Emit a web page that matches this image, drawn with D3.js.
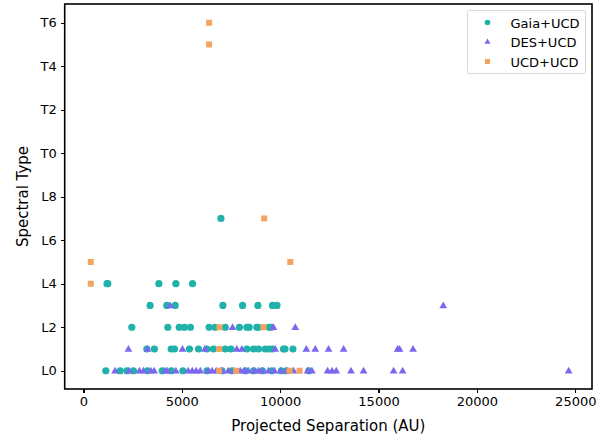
<!DOCTYPE html>
<html lang="en">
<head>
<meta charset="utf-8">
<title>Spectral type vs projected separation</title>
<script src="https://cdn.jsdelivr.net/npm/d3@7"></script>
<style>
  body { margin: 0; background: #fff; }
  text { font-family: "DejaVu Sans", sans-serif; fill: #000; }
  .axis path, .axis line { stroke: #000; shape-rendering: crispEdges; }
</style>
</head>
<body>
<script>
// spectral types as numbers: L0 = 0 ... L9 = 9, T0 = 10 ... T6 = 16
var typeTicks = [0, 2, 4, 6, 8, 10, 12, 14, 16];
var typeLabels = ["L0", "L2", "L4", "L6", "L8", "T0", "T2", "T4", "T6"];
var sepTicks = [0, 5000, 10000, 15000, 20000, 25000];

// Gaia+UCD
var gaiaSep = [6990,
  1200, 1240, 3835, 4700, 5545,
  3390, 4240, 4665, 7090, 8090, 8870, 9610, 9840,
  2460, 4290, 4870, 5140, 5440, 6390, 6700, 7210, 7930, 8310, 8430, 8820, 8885, 9445, 9550,
  3225, 3610, 4460, 4630, 5390, 5850, 6275, 6610, 7210, 7500, 8310, 8645, 8900, 9240, 9445, 9610, 10170, 10245, 10650,
  1140, 1870, 2210, 2545, 3255, 4005, 4475, 5055, 6280, 7040, 7550, 8240, 8650, 9100, 9580, 10060, 10320, 11460];
var gaiaType = [7,
  4, 4, 4, 4, 4,
  3, 3, 3, 3, 3, 3, 3, 3,
  2, 2, 2, 2, 2, 2, 2, 2, 2, 2, 2, 2, 2, 2, 2,
  1, 1, 1, 1, 1, 1, 1, 1, 1, 1, 1, 1, 1, 1, 1, 1, 1, 1, 1,
  0, 0, 0, 0, 0, 0, 0, 0, 0, 0, 0, 0, 0, 0, 0, 0, 0, 0];

// DES+UCD
var desSep = [4410, 18290,
  7580, 9660, 10770,
  2290, 3255, 5035, 6175, 7800, 8055, 9750, 11330, 11785, 12460, 13225, 15970, 16070, 16755,
  1610, 2325, 2850, 3050, 3430, 3595, 4155, 4270, 4700, 5325, 5530, 5730, 5940, 6340, 6540,
  6750, 7050, 7360, 7660, 7970, 8180, 8380, 8690, 8900, 9100, 9410, 9710, 10020, 10320, 10680,
  11395, 11615, 12410, 12635, 12850, 13600, 14240, 15765, 16225, 24665];
var desType = [3, 3,
  2, 2, 2,
  1, 1, 1, 1, 1, 1, 1, 1, 1, 1, 1, 1, 1, 1,
  0, 0, 0, 0, 0, 0, 0, 0, 0, 0, 0, 0, 0, 0, 0,
  0, 0, 0, 0, 0, 0, 0, 0, 0, 0, 0, 0, 0, 0, 0,
  0, 0, 0, 0, 0, 0, 0, 0, 0, 0];

// UCD+UCD
var ucdSep = [6390, 6390, 9190, 375, 10515, 375, 6915, 9155, 6900, 6900, 7765, 10480, 10985];
var ucdType = [16, 15, 7, 5, 5, 4, 2, 2, 1, 0, 0, 0, 0];

var seriesNames = ["Gaia+UCD", "DES+UCD", "UCD+UCD"];
var seriesColors = ["#20b2aa", "#7b68ee", "#f4a460"];

var W = 611, H = 439;
var pl = 64.7, pr = 592, pt = 4, pb = 389;

var svg = d3.select("body").append("svg").attr("width", W).attr("height", H);

var x = d3.scaleLinear().domain([-950, 25850]).range([pl, pr]);
var y = d3.scaleLinear().domain([-0.84, 16.86]).range([pb, pt]);

var xAxis = d3.axisBottom(x).tickValues(sepTicks).tickFormat(d3.format("d")).tickSizeOuter(0).tickSize(4).tickPadding(4);
var yAxis = d3.axisLeft(y).tickValues(typeTicks).tickFormat(function(d, i) { return typeLabels[i]; })
  .tickSizeOuter(0).tickSize(4).tickPadding(4);

var gx = svg.append("g").attr("class", "axis").attr("transform", "translate(0," + pb + ")").call(xAxis);
var gy = svg.append("g").attr("class", "axis").attr("transform", "translate(" + pl + ",0)").call(yAxis);
gx.select(".domain").remove();
gy.select(".domain").remove();
[gx, gy].forEach(function(g) {
  g.selectAll("text").style("font-size", "13px").style("font-family", "DejaVu Sans, sans-serif");
  g.selectAll("line").attr("stroke-width", 1.3);
});

// markers
var pts = function(xs, ys) { return xs.map(function(d, i) { return [d, ys[i]]; }); };

svg.append("g").selectAll("circle")
  .data(pts(gaiaSep, gaiaType)).enter().append("circle")
  .attr("cx", function(d) { return x(d[0]); })
  .attr("cy", function(d) { return y(d[1]); })
  .attr("r", 3.6)
  .attr("fill", seriesColors[0]);

var tri = d3.symbol().type(d3.symbolTriangle).size(26);
svg.append("g").selectAll("path")
  .data(pts(desSep, desType)).enter().append("path")
  .attr("d", tri)
  .attr("transform", function(d) { return "translate(" + x(d[0]) + "," + (y(d[1]) + 0.5) + ")"; })
  .attr("fill", seriesColors[1]);

svg.append("g").selectAll("rect")
  .data(pts(ucdSep, ucdType)).enter().append("rect")
  .attr("x", function(d) { return x(d[0]) - 3; })
  .attr("y", function(d) { return y(d[1]) - 3; })
  .attr("width", 6).attr("height", 6)
  .attr("fill", seriesColors[2]);

// frame
svg.append("rect").attr("x", pl).attr("y", pt)
  .attr("width", pr - pl).attr("height", pb - pt)
  .attr("fill", "none").attr("stroke", "#000").attr("stroke-width", 1.6);

// axis labels
svg.append("text").attr("x", (pl + pr) / 2).attr("y", 431)
  .attr("text-anchor", "middle").style("font-size", "15px")
  .text("Projected Separation (AU)");
svg.append("text").attr("transform", "translate(28," + (pt + pb) / 2 + ") rotate(-90)")
  .attr("text-anchor", "middle").style("font-size", "15px")
  .text("Spectral Type");

// legend
var lg = svg.append("g").attr("transform", "translate(467.5,10.5)");
lg.append("rect").attr("width", 118).attr("height", 63).attr("rx", 2)
  .attr("fill", "#fff").attr("fill-opacity", 0.8).attr("stroke", "#d9d9d9");
seriesNames.forEach(function(name, i) {
  var cy = 12 + i * 19.5;
  var row = lg.append("g").attr("transform", "translate(20," + cy + ")");
  if (i === 0) row.append("circle").attr("r", 2.8).attr("fill", seriesColors[0]);
  if (i === 1) row.append("path").attr("d", d3.symbol().type(d3.symbolTriangle).size(16)).attr("fill", seriesColors[1]);
  if (i === 2) row.append("rect").attr("x", -2.5).attr("y", -2.5).attr("width", 5).attr("height", 5).attr("fill", seriesColors[2]);
  lg.append("text").attr("x", 43).attr("y", cy + 5).style("font-size", "13px").text(name);
});
</script>
</body>
</html>
